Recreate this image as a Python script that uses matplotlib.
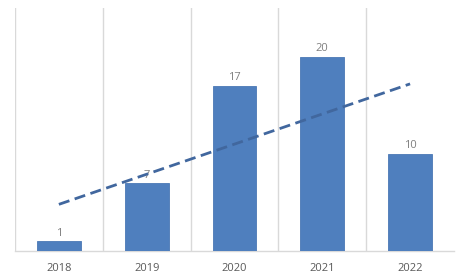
import numpy as np
import matplotlib
matplotlib.use("Agg")
import matplotlib.pyplot as plt

years = ["2018", "2019", "2020", "2021", "2022"]
counts = [1, 7, 17, 20, 10]

plt.rcParams['font.family'] = ['Open Sans', 'DejaVu Sans']

fig = plt.figure(figsize=(4.74, 2.79), dpi=100, facecolor='w')
ax = fig.add_axes([0.0316, 0.1004, 0.9262, 0.8706])

x = np.arange(len(years))
bars = ax.bar(x, counts, width=0.5, color='#4F7FBE', edgecolor='#4A78B5', linewidth=0.6, zorder=3)

for xi, v in zip(x, counts):
    ax.text(xi, v + 0.25, str(v), ha='center', va='bottom', fontsize=8, color='#7F7F7F')

# linear trendline
k, b = np.polyfit(x, counts, 1)
ax.plot(x, k * x + b, linestyle=(0, (4, 2)), color='#41679E', linewidth=2.0, zorder=4)

for g in np.arange(-0.5, len(years) - 1, 1.0):
    ax.axvline(g, color='#D9D9D9', linewidth=1.0, zorder=1)

ax.set_xlim(-0.5, len(years) - 0.5)
ax.set_ylim(0, 25)
ax.set_xticks(x)
ax.set_xticklabels(years, fontsize=8, color='#595959')
ax.tick_params(axis='x', length=0, pad=9)
ax.set_yticks([])
for s in ['top', 'right', 'left']:
    ax.spines[s].set_visible(False)
ax.spines['bottom'].set_color('#D9D9D9')
ax.spines['bottom'].set_linewidth(1.0)

plt.savefig("out.png", dpi=100)
